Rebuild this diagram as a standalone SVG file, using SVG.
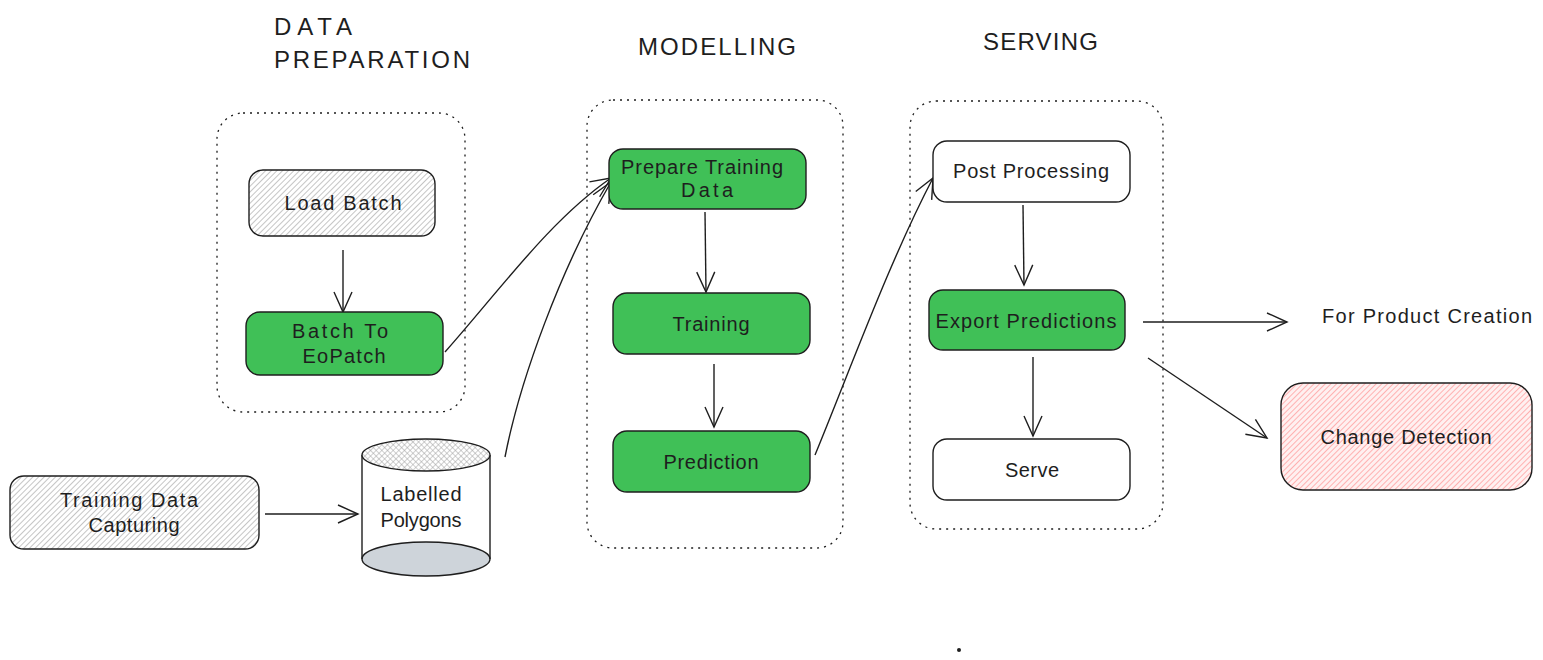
<svg xmlns="http://www.w3.org/2000/svg" width="1543" height="660" viewBox="0 0 1543 660">
<style>
.t{font-family:"Liberation Sans","DejaVu Sans",sans-serif;font-size:20px;fill:#1e1e1e;text-anchor:middle;dominant-baseline:central}
.h{font-family:"Liberation Sans","DejaVu Sans",sans-serif;font-size:24px;fill:#1e1e1e}
.box{stroke:#1e1e1e;stroke-width:1.4}
.green{fill:#40c057}
.white{fill:#ffffff}
.grey{fill:url(#hatchGrey)}
.red{fill:url(#hatchRed)}
.grp{fill:none;stroke:#1e1e1e;stroke-width:1.3;stroke-dasharray:2 5}
.c{fill:none;stroke:#1e1e1e;stroke-width:1.4;marker-end:url(#arr)}
</style>
<defs>
<pattern id="hatchGrey" width="4" height="4" patternUnits="userSpaceOnUse" patternTransform="rotate(45)">
<rect width="4" height="4" fill="#ffffff"/>
<line x1="0" y1="0" x2="0" y2="4" stroke="#8c8c8c" stroke-width="1"/>
</pattern>
<pattern id="hatchRed" width="4" height="4" patternUnits="userSpaceOnUse" patternTransform="rotate(45)">
<rect width="4" height="4" fill="#fff0f0"/>
<line x1="0" y1="0" x2="0" y2="4" stroke="#ff8787" stroke-width="1.2"/>
</pattern>
<pattern id="cross" width="4" height="4" patternUnits="userSpaceOnUse" patternTransform="rotate(45)">
<rect width="4" height="4" fill="#ffffff"/>
<line x1="0" y1="0" x2="0" y2="4" stroke="#a0a0a0" stroke-width="1"/>
<line x1="0" y1="0" x2="4" y2="0" stroke="#a0a0a0" stroke-width="1"/>
</pattern>
<marker id="arr" viewBox="0 0 24 24" refX="22" refY="12" markerWidth="24" markerHeight="24" markerUnits="userSpaceOnUse" orient="auto">
<path d="M2 3 L22 12 L2 21" fill="none" stroke="#1e1e1e" stroke-width="1.4"/>
</marker>
</defs>

<g id="titles">
<text class="h" x="274" y="35" textLength="78">DATA</text>
<text class="h" x="274" y="68" textLength="196">PREPARATION</text>
<text class="h" x="638" y="55" textLength="158">MODELLING</text>
<text class="h" x="983" y="50" textLength="115">SERVING</text>
</g>

<g id="groups">
<rect id="grp-data-preparation" class="grp" x="217" y="113" width="248" height="299" rx="26"/>
<rect id="grp-modelling" class="grp" x="587" y="100" width="256" height="448" rx="26"/>
<rect id="grp-serving" class="grp" x="910" y="101" width="253" height="428" rx="26"/>
</g>

<g id="connectors">
<path class="c" d="M343 250 L343 312"/>
<path class="c" d="M445 352 C500 290 550 220 611 178"/>
<path class="c" d="M505 457 C520 380 560 270 611 182"/>
<path class="c" d="M265 514 L358 514"/>
<path class="c" d="M705 212 L706 292"/>
<path class="c" d="M714 364 L714 427"/>
<path class="c" d="M815 455 C850 370 890 260 933 178"/>
<path class="c" d="M1023 205 L1024 285"/>
<path class="c" d="M1033 357 L1033 436"/>
<path class="c" d="M1143 322 L1287 322"/>
<path class="c" d="M1148 358 L1267 438"/>
</g>

<g id="node-load-batch">
<rect class="box grey" x="249" y="170" width="186" height="66" rx="14"/>
<text class="t" x="343" y="203" textLength="117">Load Batch</text>
</g>
<g id="node-batch-to-eopatch">
<rect class="box green" x="246" y="312" width="197" height="63" rx="14"/>
<text class="t" x="340" y="331" textLength="96">Batch To</text>
<text class="t" x="344" y="356" textLength="83">EoPatch</text>
</g>
<g id="node-training-data-capturing">
<rect class="box grey" x="10" y="476" width="249" height="73" rx="14"/>
<text class="t" x="129" y="500" textLength="138">Training Data</text>
<text class="t" x="134" y="525" textLength="91">Capturing</text>
</g>
<g id="node-labelled-polygons">
<rect x="362" y="455" width="128" height="104" fill="#ffffff"/>
<ellipse cx="426" cy="559" rx="64" ry="17" fill="#ced4da" stroke="#1e1e1e" stroke-width="1.4"/>
<line x1="362" y1="455" x2="362" y2="559" stroke="#1e1e1e" stroke-width="1.4"/>
<line x1="490" y1="455" x2="490" y2="559" stroke="#1e1e1e" stroke-width="1.4"/>
<ellipse cx="426" cy="455" rx="64" ry="16" fill="url(#cross)" stroke="#1e1e1e" stroke-width="1.4"/>
<text class="t" x="421" y="494" textLength="81">Labelled</text>
<text class="t" x="421" y="520" textLength="81">Polygons</text>
</g>
<g id="node-prepare-training-data">
<rect class="box green" x="609" y="149" width="197" height="60" rx="14"/>
<text class="t" x="702" y="167" textLength="162">Prepare Training</text>
<text class="t" x="707" y="190" textLength="52">Data</text>
</g>
<g id="node-training">
<rect class="box green" x="613" y="293" width="197" height="61" rx="14"/>
<text class="t" x="711" y="324" textLength="77">Training</text>
</g>
<g id="node-prediction">
<rect class="box green" x="613" y="431" width="197" height="61" rx="14"/>
<text class="t" x="711" y="462" textLength="95">Prediction</text>
</g>
<g id="node-post-processing">
<rect class="box white" x="933" y="141" width="197" height="61" rx="14"/>
<text class="t" x="1031" y="171" textLength="156">Post Processing</text>
</g>
<g id="node-export-predictions">
<rect class="box green" x="929" y="290" width="196" height="60" rx="14"/>
<text class="t" x="1026" y="321" textLength="181">Export Predictions</text>
</g>
<g id="node-serve">
<rect class="box white" x="933" y="439" width="197" height="61" rx="14"/>
<text class="t" x="1032" y="470" textLength="54">Serve</text>
</g>
<g id="node-for-product-creation">
<text class="t" x="1427" y="316" textLength="210">For Product Creation</text>
</g>
<g id="node-change-detection">
<rect class="box red" x="1281" y="383" width="251" height="107" rx="22"/>
<text class="t" x="1406" y="437" textLength="171">Change Detection</text>
</g>
<circle cx="959" cy="650" r="2" fill="#1e1e1e"/>
</svg>
